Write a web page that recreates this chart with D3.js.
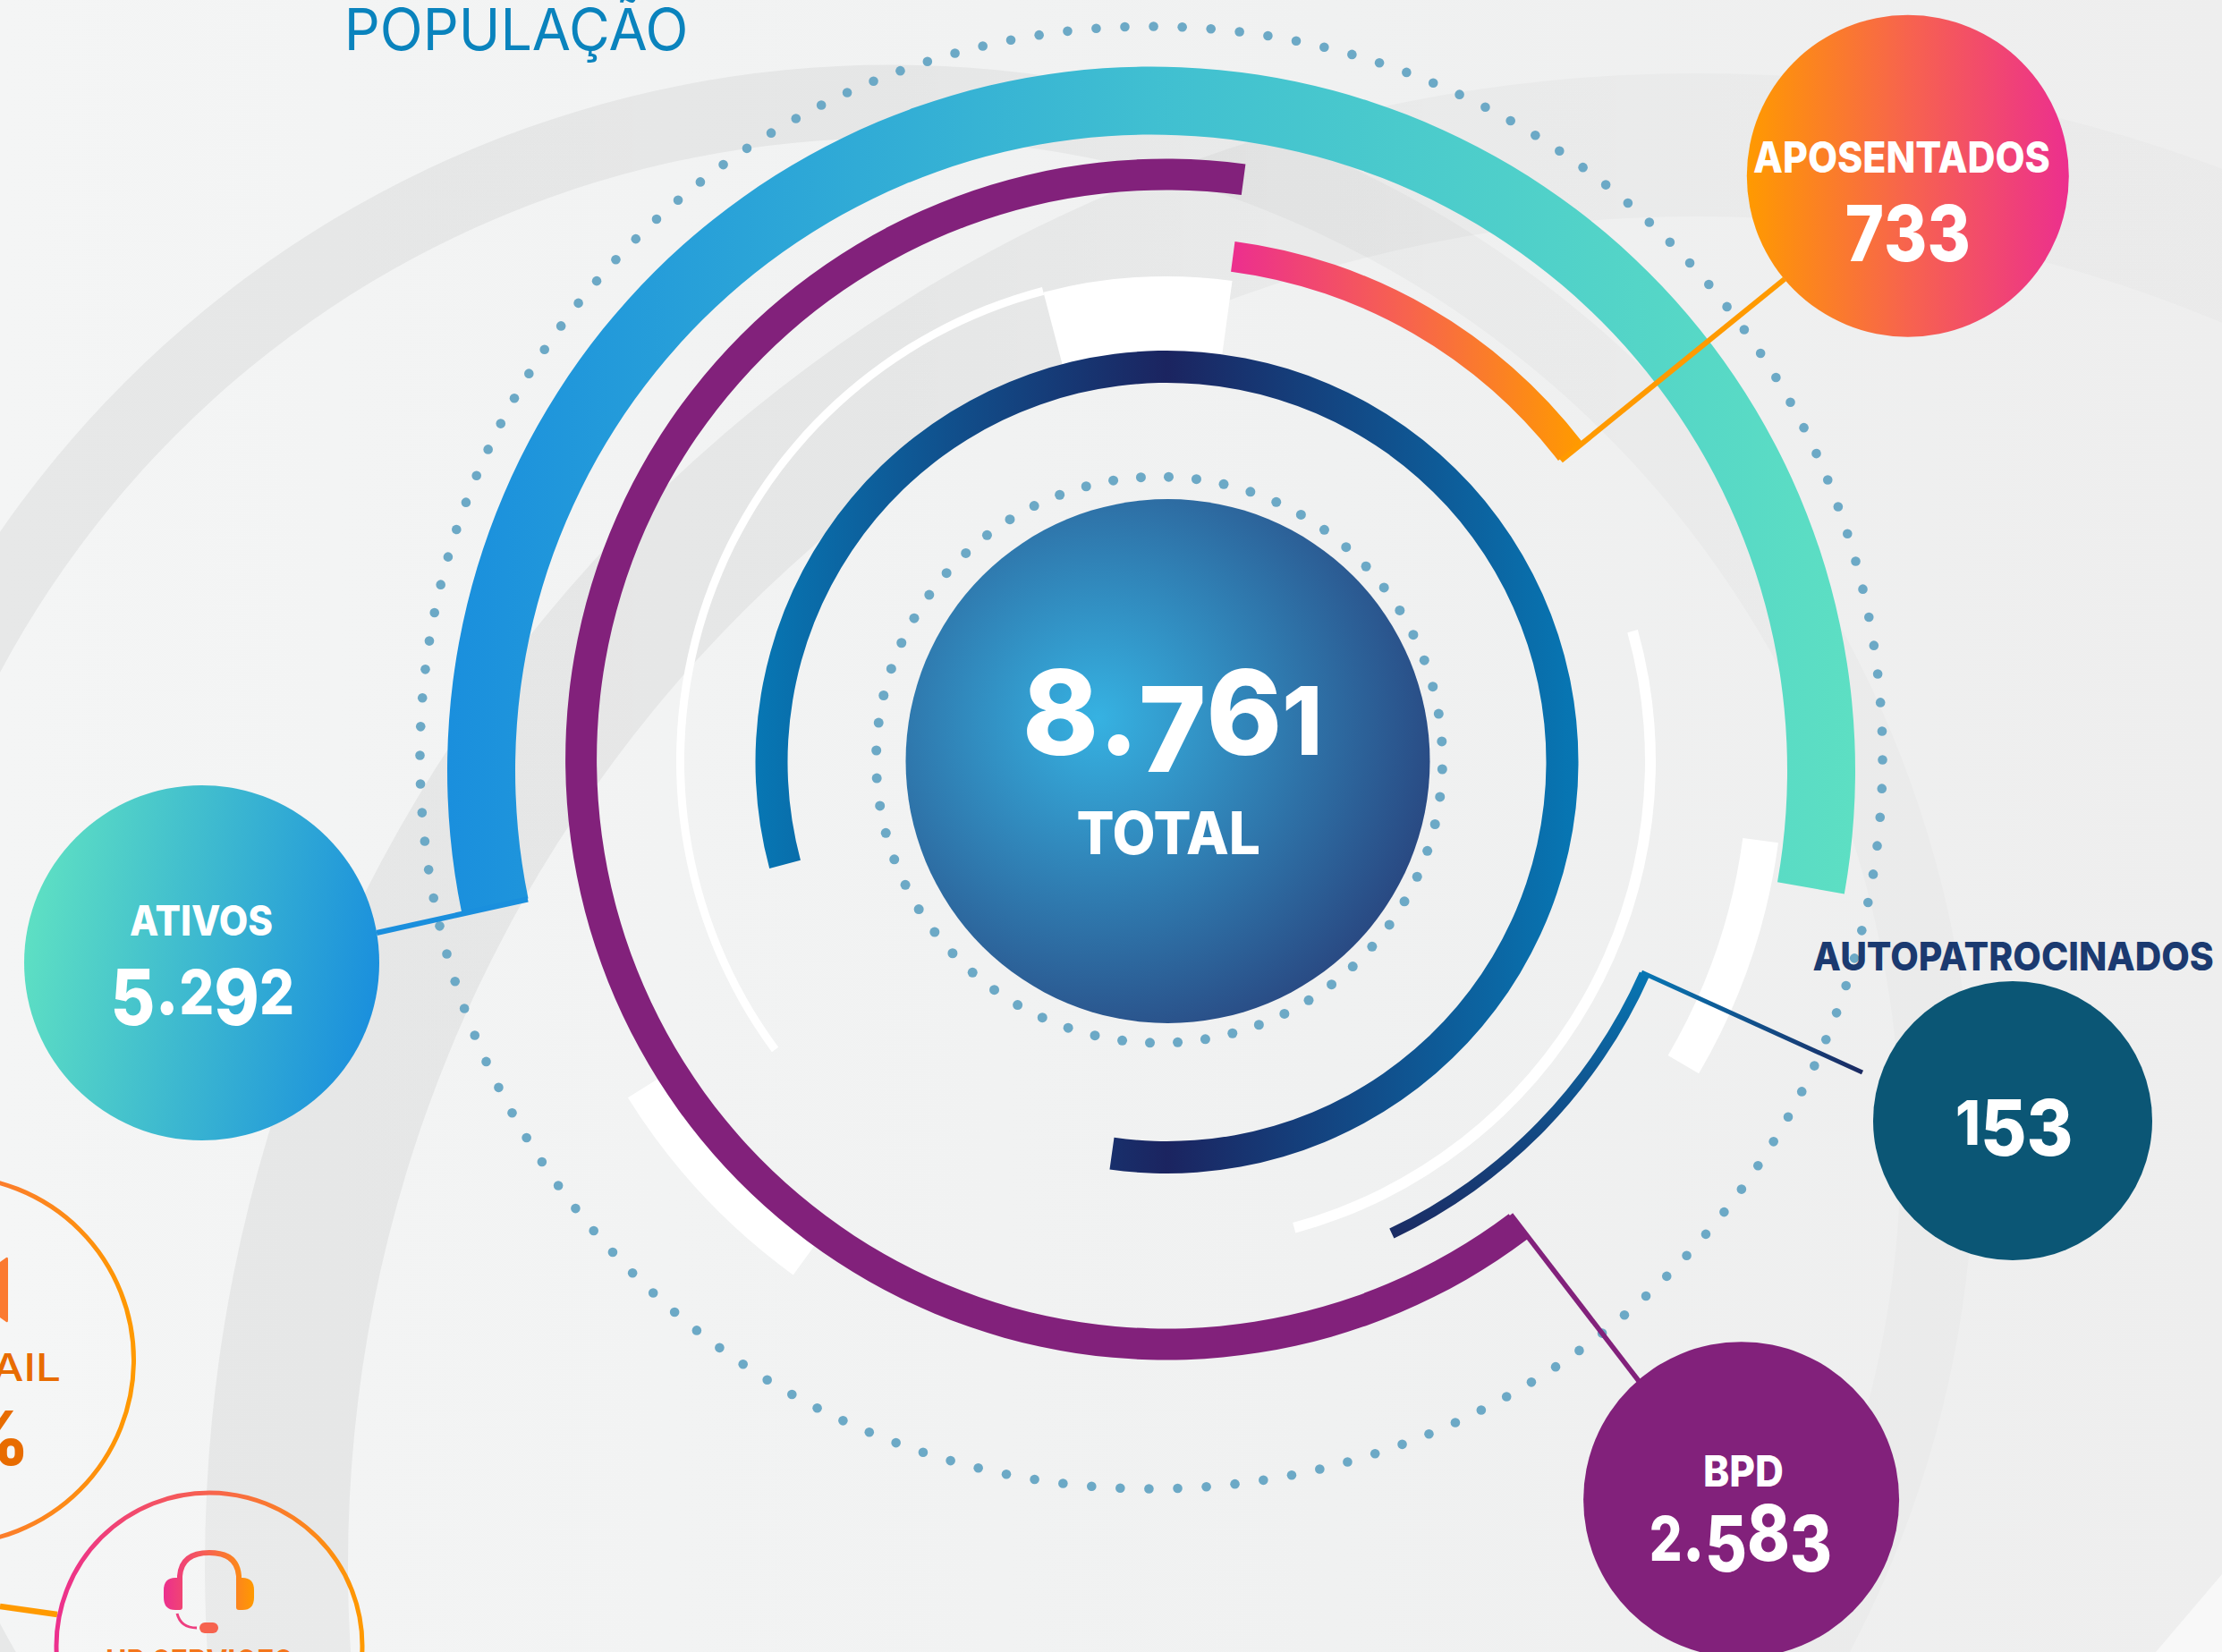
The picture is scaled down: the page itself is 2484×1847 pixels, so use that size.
<!DOCTYPE html>
<html>
<head>
<meta charset="utf-8">
<script src="https://cdn.jsdelivr.net/npm/d3@7"></script>
<style>
  html, body { margin: 0; padding: 0; background: #f1f2f2; overflow: hidden; }
  text { font-family: Inter, Lato, sans-serif; }
</style>
</head>
<body>
<div id="chart"></div>
<script>
const width = 2484;
const height = 1847;

// Values
const groupNames = ["ATIVOS", "BPD", "APOSENTADOS", "AUTOPATROCINADOS"];
const groupValues = [5292, 2583, 733, 153];
const totalLabel = "TOTAL";
const titleLabel = "POPULAÇÃO";

// Extent of each group's ring, in degrees clockwise from 12 o'clock
const groupStartDeg = [-101.6, 143, 7.5, 114];
const groupEndDeg = [100.1, 367.6, 52.5, 154.5];
const totalStartDeg = -105;
const totalEndDeg = 188;

// Decorative white segments
const whiteStartDeg = [-126.4, -14.7, 74.4, 97.6, -144];
const whiteEndDeg = [-14.7, 7.8, 164.7, 120.4, -122];

const svg = d3.select("#chart").append("svg")
  .attr("width", width)
  .attr("height", height)
  .style("display", "block");

const defs = svg.append("defs");
const number = d3.formatLocale({ decimal: ",", thousands: ".", grouping: [3], currency: ["", ""] }).format(",");
const toRad = d3.scaleLinear().domain([0, 360]).range([0, 2 * Math.PI]);
const arc = d3.arc();

function gradient(id, x1, y1, x2, y2, stops) {
  const g = defs.append("linearGradient").attr("id", id)
    .attr("gradientUnits", "userSpaceOnUse")
    .attr("x1", x1).attr("y1", y1).attr("x2", x2).attr("y2", y2);
  stops.forEach(s => {
    const st = g.append("stop").attr("offset", s[0]).attr("stop-color", s[1]);
    if (s[2] !== undefined) st.attr("stop-opacity", s[2]);
  });
  return g;
}

const bandStops = [[0, "#000", 0.055], [0.4, "#000", 0.05], [0.58, "#000", 0.03], [0.85, "#000", 0.017], [1, "#000", 0.015]];

gradient("bgGrad", 0, 0, width, 0, [[0, "#f4f5f5"], [0.6, "#f0f1f1"], [1, "#eeeeee"]]);
// These gradients live in the translated space of the ring they paint
gradient("bandA", -996, 0, width - 996, 0, bandStops);
gradient("bandB", -1897, 0, width - 1897, 0, bandStops);
gradient("ativosArc", -787, 0, 787, 0, [[0, "#1a8fdd"], [0.5, "#40bfd1"], [1, "#5ddfc3"]]);
gradient("apoArc", 74, 0, 462, 0, [[0, "#ec2f8e"], [0.5, "#f7634e"], [1, "#ff9a00"]]);
gradient("totalArc", 0, 0, 460, 0, [[0, "#1b2460"], [1, "#0777b4"]]).attr("spreadMethod", "reflect");
gradient("autoArc", 0, 233, 0, 537, [[0, "#0777b4"], [1, "#1b2a62"]]);
gradient("ativosDisc", 27, 1040, 424, 1110, [[0, "#5ee0c3"], [1, "#1a8fdd"]]);
gradient("apoDisc", 1953, 0, 2313, 0, [[0, "#ff9a00"], [0.5, "#f7634e"], [1, "#ec2f8e"]]);
gradient("autoLine", 1835, 0, 2082, 0, [[0, "#0777b4"], [1, "#1b2a62"]]);
gradient("mailRing", -260, 0, 152, 0, [[0, "#f7634e"], [0.6, "#fb7a30"], [1, "#ff9a00"]]);
gradient("upRing", 61, 0, 407, 0, [[0, "#ec2f8e"], [0.5, "#f7634e"], [1, "#ff9a00"]]);
gradient("headset", 183, 0, 284, 0, [[0, "#ec2f8e"], [0.5, "#f7634e"], [1, "#ff9a00"]]);

const totalRadial = defs.append("radialGradient").attr("id", "totalDisc")
  .attr("gradientUnits", "userSpaceOnUse")
  .attr("cx", 1227).attr("cy", 803).attr("r", 420);
totalRadial.append("stop").attr("offset", 0).attr("stop-color", "#36b2e2");
totalRadial.append("stop").attr("offset", 1).attr("stop-color", "#28407a");

// Background
svg.append("rect").attr("width", width).attr("height", height).attr("fill", "url(#bgGrad)");
svg.append("path").attr("d", "M2484,1760L2410,1847L2484,1847Z").attr("fill", "#f8f8f8");

// Wide pale bands behind the rings
const bands = [
  { cx: 996, cy: 1283.5, inner: 1129, outer: 1211, fill: "url(#bandA)" },
  { cx: 1897, cy: 1750, inner: 1508, outer: 1668, fill: "url(#bandB)" }
];
svg.selectAll(".band").data(bands).enter().append("path")
  .attr("class", "band")
  .attr("transform", d => `translate(${d.cx},${d.cy})`)
  .attr("d", d => arc({ innerRadius: d.inner, outerRadius: d.outer, startAngle: 0, endAngle: 2 * Math.PI }))
  .attr("fill", d => d.fill);

// Dotted rings
function dotRing(cx, cy, r, n, phase, size) {
  const angle = d3.scaleLinear().domain([0, n]).range([phase, phase + 360]);
  svg.append("g").selectAll("circle").data(d3.range(n)).enter().append("circle")
    .attr("cx", d => cx + r * Math.sin(toRad(angle(d))))
    .attr("cy", d => cy - r * Math.cos(toRad(angle(d))))
    .attr("r", size)
    .attr("fill", "#6ca9c6");
}
dotRing(1287, 847, 817.5, 160, 0.18, 5.3);
dotRing(1296, 849.5, 316.5, 64, 1.9, 5.5);

// White segments, all around the middle of the page
const ringCenter = [1304, 851];
const whiteInner = [539, 455, 535, 650, 660];
const whiteOuter = [548, 542, 547, 690, 710];
svg.append("g")
  .attr("transform", `translate(${ringCenter})`)
  .selectAll("path").data(whiteStartDeg).enter().append("path")
  .attr("d", (d, i) => arc({
    innerRadius: whiteInner[i],
    outerRadius: whiteOuter[i],
    startAngle: toRad(d),
    endAngle: toRad(whiteEndDeg[i])
  }))
  .attr("fill", "#fff");

// Group rings
const ringAt = [[1287, 861.5], [1303.6, 849], [1304, 851], [1304, 851]];
const ringInner = [711, 636.5, 552, 579];
const ringOuter = [787, 671.5, 586, 591];
const ringFill = ["url(#ativosArc)", "#82217b", "url(#apoArc)", "url(#autoArc)"];
svg.append("g").selectAll("path").data(groupValues).enter().append("path")
  .attr("transform", (d, i) => `translate(${ringAt[i]})`)
  .attr("d", (d, i) => arc({
    innerRadius: ringInner[i],
    outerRadius: ringOuter[i],
    startAngle: toRad(groupStartDeg[i]),
    endAngle: toRad(groupEndDeg[i])
  }))
  .attr("fill", (d, i) => ringFill[i]);

// Total ring and disc
svg.append("path")
  .attr("transform", "translate(1304.5,852)")
  .attr("d", arc({ innerRadius: 424, outerRadius: 460, startAngle: toRad(totalStartDeg), endAngle: toRad(totalEndDeg) }))
  .attr("fill", "url(#totalArc)");
svg.append("circle")
  .attr("cx", 1305.5).attr("cy", 851).attr("r", 293)
  .attr("fill", "url(#totalDisc)");

// Connectors from ring ends to the discs
const links = [
  { x1: 590, y1: 1005.5, x2: 421, y2: 1043, stroke: "#1a8fdd", w: 6 },
  { x1: 1689, y1: 1358, x2: 1832, y2: 1544, stroke: "#82217b", w: 5.5 },
  { x1: 1745, y1: 515, x2: 1995, y2: 312, stroke: "#ff9a00", w: 6 },
  { x1: 1835, y1: 1087, x2: 2082, y2: 1199, stroke: "url(#autoLine)", w: 5 }
];
svg.append("g").selectAll("line").data(links).enter().append("line")
  .attr("x1", d => d.x1).attr("y1", d => d.y1)
  .attr("x2", d => d.x2).attr("y2", d => d.y2)
  .attr("stroke", d => d.stroke)
  .attr("stroke-width", d => d.w);

// Discs
const discs = [
  { cx: 225.5, cy: 1076.5, r: 198.5, fill: "url(#ativosDisc)" },
  { cx: 1946.6, cy: 1676.7, r: 176.5, fill: "#82217b" },
  { cx: 2132.8, cy: 196.7, r: 180, fill: "url(#apoDisc)" },
  { cx: 2250, cy: 1253, r: 156, fill: "#0b5675" }
];
svg.append("g").selectAll("circle").data(discs).enter().append("circle")
  .attr("cx", d => d.cx).attr("cy", d => d.cy).attr("r", d => d.r)
  .attr("fill", d => d.fill);

// Text is stretched to the measured span so it sits where the reference has it
function place(sel, x0, x1, y) {
  const w = sel.node().getComputedTextLength();
  sel.attr("transform", `translate(${x0},${y}) scale(${(x1 - x0) / w},1)`);
  return sel;
}

function label(str, size, weight, fill, x0, x1, y) {
  const t = svg.append("text")
    .attr("font-size", size).attr("font-weight", weight).attr("fill", fill)
    .text(str);
  return place(t, x0, x1, y);
}

// The numbers use old-style figures, so each digit gets its own size and drop
function figures(str, size, x0, x1, y) {
  const t = svg.append("text")
    .attr("font-weight", 800).attr("fill", "#fff").attr("font-size", size);
  let cur = 0;
  for (const ch of str) {
    const short = "012".includes(ch);
    const drop = "34579".includes(ch) ? size * 0.145 : 0;
    t.append("tspan")
      .attr("font-size", short ? size * 0.8 : size)
      .attr("dy", drop - cur)
      .text(ch);
    cur = drop;
  }
  return place(t, x0, x1, y);
}

label(groupNames[0], 47, 800, "#fff", 145, 305, 1046);
figures(number(groupValues[0]), 86, 123.4, 327.4, 1134);
label(groupNames[1], 48, 800, "#fff", 1904, 1994, 1662);
figures(number(groupValues[1]), 86, 1843.7, 2048, 1744.7);
label(groupNames[2], 48, 800, "#fff", 1960, 2292, 193);
figures(number(groupValues[2]), 86, 2062.8, 2201.7, 280);
label(groupNames[3], 44, 800, "#1b3a70", 2026.5, 2475, 1085);
figures(number(groupValues[3]), 86, 2186, 2317.5, 1280);
figures(number(d3.sum(groupValues)), 132, 1142.9, 1470, 843.7);
label(totalLabel, 66, 800, "#fff", 1203.6, 1409, 954.5);
label(titleLabel, 65, 400, "#0a83bd", 384.8, 769.6, 55.7);

// Cut-off service circles at the lower left
svg.append("circle").attr("cx", -56).attr("cy", 1520.5).attr("r", 205.5)
  .attr("fill", "#fff").attr("fill-opacity", 0.15)
  .attr("stroke", "url(#mailRing)").attr("stroke-width", 5);
svg.append("path")
  .attr("d", "M0,1411L7,1406Q9,1405 9,1408L9,1476Q9,1479 7,1478L0,1473Z")
  .attr("fill", "#fb7a30");
svg.append("text").attr("transform", "translate(68,1544) scale(1.18,1)").attr("text-anchor", "end")
  .attr("font-size", 42).attr("font-weight", 500).attr("fill", "#e86c00").text("E-MAIL");
svg.append("text").attr("x", 33).attr("y", 1638).attr("text-anchor", "end")
  .attr("font-size", 84).attr("font-weight", 800).attr("fill", "#e86c00").text("%");

svg.append("line")
  .attr("x1", 0).attr("y1", 1796).attr("x2", 64).attr("y2", 1805)
  .attr("stroke", "#ff9a00").attr("stroke-width", 6.5);
svg.append("circle").attr("cx", 234).attr("cy", 1840).attr("r", 171)
  .attr("fill", "#fff").attr("fill-opacity", 0.15)
  .attr("stroke", "url(#upRing)").attr("stroke-width", 5);

const headset = svg.append("g");
headset.append("path")
  .attr("d", "M201,1770L201,1762Q203,1736 234,1736Q265,1736 267,1762L267,1770")
  .attr("fill", "none").attr("stroke", "url(#headset)").attr("stroke-width", 6);
headset.append("path")
  .attr("d", "M204,1764L204,1797Q204,1800 201,1800L196,1800Q183,1800 183,1786L183,1778Q183,1764 196,1764Z")
  .attr("fill", "url(#headset)");
headset.append("path")
  .attr("d", "M264,1764L264,1797Q264,1800 267,1800L271,1800Q284,1800 284,1786L284,1778Q284,1764 271,1764Z")
  .attr("fill", "url(#headset)");
headset.append("path")
  .attr("d", "M198,1804Q202,1820 220,1820")
  .attr("fill", "none").attr("stroke", "#ee3f80").attr("stroke-width", 3);
headset.append("rect")
  .attr("x", 223).attr("y", 1814).attr("width", 21).attr("height", 12).attr("rx", 6)
  .attr("fill", "#f6634f");
label("UP SERVICES:", 42, 700, "#f4761c", 118, 338, 1875);
</script>
</body>
</html>
